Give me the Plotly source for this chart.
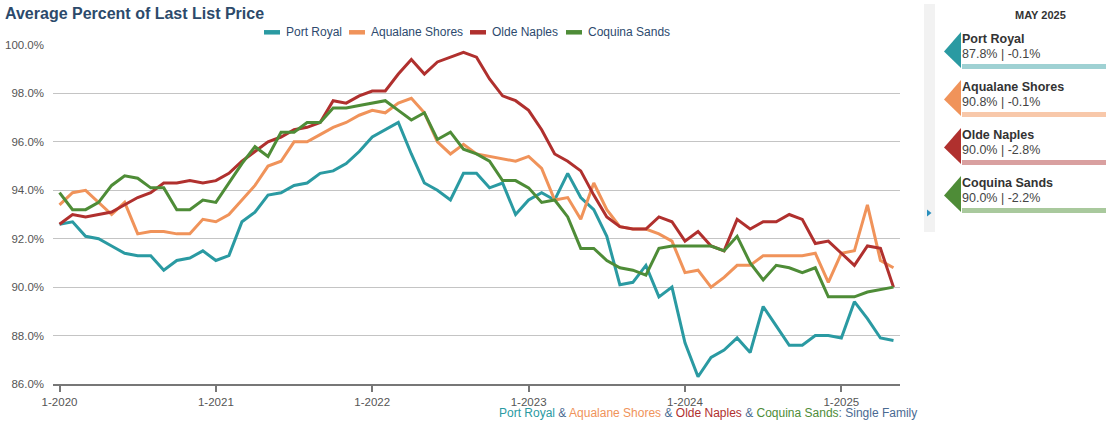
import plotly.graph_objects as go

# ---------------- data ----------------
years = [2020, 2021, 2022, 2023, 2024, 2025]
months = [f"{m}-{y}" for y in years for m in range(1, 13)][:65]  # Jan 2020 .. May 2025
year_ticks = [f"1-{y}" for y in years]

series_names = ["Port Royal", "Aqualane Shores", "Olde Naples", "Coquina Sands"]
series_colors = ["#2a9aa2", "#f0935a", "#b0302e", "#4e8c37"]
bar_colors = ["#9fd1d3", "#f8c8aa", "#d9a0a0", "#a9c99d"]

port_royal = [
    92.6, 92.7, 92.1, 92.0, 91.7, 91.4, 91.3, 91.3, 90.7, 91.1, 91.2, 91.5,
    91.1, 91.3, 92.7, 93.1, 93.8, 93.9, 94.2, 94.3, 94.7, 94.8, 95.1, 95.6,
    96.2, 96.5, 96.8, 95.5, 94.3, 94.0, 93.6, 94.7, 94.7, 94.1, 94.3, 93.0,
    93.6, 93.9, 93.6, 94.7, 93.7, 93.2, 92.1, 90.1, 90.2, 90.9, 89.6, 90.0,
    87.7, 86.3, 87.1, 87.4, 87.9, 87.3, 89.2, 88.4, 87.6, 87.6, 88.0, 88.0,
    87.9, 89.4, 88.7, 87.9, 87.8,
]
aqualane_shores = [
    93.4, 93.9, 94.0, 93.5, 93.0, 93.5, 92.2, 92.3, 92.3, 92.2, 92.2, 92.8,
    92.7, 93.0, 93.6, 94.2, 95.0, 95.2, 96.0, 96.0, 96.3, 96.6, 96.8, 97.1,
    97.3, 97.2, 97.6, 97.8, 97.2, 96.0, 95.5, 95.9, 95.5, 95.4, 95.3, 95.2,
    95.4, 94.9, 93.6, 93.7, 92.8, 94.3, 93.2, 92.5, 92.4, 92.4, 92.2, 91.9,
    90.6, 90.7, 90.0, 90.4, 90.9, 90.9, 91.3, 91.3, 91.3, 91.3, 91.4, 90.2,
    91.4, 91.5, 93.4, 91.1, 90.8,
]
olde_naples = [
    92.6, 93.0, 92.9, 93.0, 93.1, 93.4, 93.7, 93.9, 94.3, 94.3, 94.4, 94.3,
    94.4, 94.7, 95.2, 95.6, 96.0, 96.2, 96.5, 96.6, 96.8, 97.7, 97.6, 97.9,
    98.1, 98.1, 98.8, 99.4, 98.8, 99.3, 99.5, 99.7, 99.5, 98.6, 97.9, 97.7,
    97.3, 96.5, 95.5, 95.2, 94.8, 93.8, 92.9, 92.5, 92.4, 92.4, 92.9, 92.7,
    91.9, 92.3, 91.7, 91.5, 92.8, 92.4, 92.7, 92.7, 93.0, 92.8, 91.8, 91.9,
    91.4, 90.9, 91.7, 91.6, 90.0,
]
coquina_sands = [
    93.9, 93.2, 93.2, 93.5, 94.2, 94.6, 94.5, 94.1, 94.1, 93.2, 93.2, 93.6,
    93.5, 94.3, 95.1, 95.8, 95.4, 96.4, 96.4, 96.8, 96.8, 97.4, 97.4, 97.5,
    97.6, 97.7, 97.3, 96.9, 97.2, 96.1, 96.4, 95.7, 95.5, 95.2, 94.4, 94.4,
    94.1, 93.5, 93.6, 92.9, 91.6, 91.6, 91.1, 90.8, 90.7, 90.5, 91.6, 91.7,
    91.7, 91.7, 91.7, 91.5, 92.1, 91.0, 90.3, 90.9, 90.8, 90.6, 90.8, 89.6,
    89.6, 89.6, 89.8, 89.9, 90.0,
]
all_series = [port_royal, aqualane_shores, olde_naples, coquina_sands]

panel_period = "MAY 2025"
panel_values = ["87.8% | -0.1%", "90.8% | -0.1%", "90.0% | -2.8%", "90.0% | -2.2%"]

y_range = [86, 100]
y_ticks = [86, 88, 90, 92, 94, 96, 98, 100]
y_ticktext = ["86.0%", "88.0%", "90.0%", "92.0%", "94.0%", "96.0%", "98.0%", "100.0%"]

# ---------------- layout helpers (pixel -> paper) ----------------
FONT = "Liberation Sans, Arial, sans-serif"
W_PX, H_PX = 1106, 424
L, R, T, B = 53, 900, 45, 384


def px(x):
    return (x - L) / (R - L)


def py(y):
    return (B - y) / (B - T)


fig = go.Figure()
for name, color, vals in zip(series_names, series_colors, all_series):
    fig.add_trace(go.Scatter(
        x=months, y=vals, name=name, mode="lines",
        line=dict(color=color, width=3), showlegend=False,
        hovertemplate="%{x}: %{y:.1f}%<extra>" + name + "</extra>",
    ))

shapes = []
annotations = []

# legend (symbol start x, text start x) positions in pixels
legend_pos = [(264, 285), (349, 370), (470, 491), (566, 587)]
for (sx, tx), name, color in zip(legend_pos, series_names, series_colors):
    shapes.append(dict(type="line", xref="paper", yref="paper",
                       x0=px(sx), x1=px(sx + 16), y0=py(32.3), y1=py(32.3),
                       line=dict(color=color, width=4.5)))
    annotations.append(dict(text=name, xref="paper", yref="paper",
                            x=px(tx - 1), y=py(32), xanchor="left", yanchor="middle",
                            showarrow=False, font=dict(family=FONT, size=12, color="#2d4a6e")))

# right side strip
shapes.append(dict(type="rect", xref="paper", yref="paper",
                   x0=px(924), x1=px(935), y0=py(232), y1=py(4),
                   fillcolor="#f2f2f2", line=dict(width=0), layer="below"))
shapes.append(dict(type="path", xref="paper", yref="paper",
                   path=f"M{px(927)},{py(209.5)} L{px(931.5)},{py(213)} L{px(927)},{py(216.5)} Z",
                   fillcolor="#2a8fbd", line=dict(width=0)))

annotations.append(dict(text=f"<b>{panel_period}</b>", xref="paper", yref="paper",
                        x=px(1040.5), y=py(15), xanchor="center", yanchor="middle",
                        showarrow=False, font=dict(family=FONT, size=11, color="#333333")))

for k, (name, color, bcol, val) in enumerate(zip(series_names, series_colors, bar_colors, panel_values)):
    dy = 48 * k
    shapes.append(dict(type="path", xref="paper", yref="paper",
                       path=f"M{px(961)},{py(32 + dy)} L{px(944)},{py(51.5 + dy)} L{px(961)},{py(68 + dy)} Z",
                       fillcolor=color, line=dict(width=0)))
    shapes.append(dict(type="rect", xref="paper", yref="paper",
                       x0=px(962), x1=px(1106), y0=py(69 + dy), y1=py(64 + dy),
                       fillcolor=bcol, line=dict(width=0)))
    annotations.append(dict(text=f"<b>{name}</b>", xref="paper", yref="paper",
                            x=px(960), y=py(38.5 + dy), xanchor="left", yanchor="middle",
                            showarrow=False, font=dict(family=FONT, size=12.5, color="#333333")))
    annotations.append(dict(text=val, xref="paper", yref="paper",
                            x=px(960), y=py(54 + dy), xanchor="left", yanchor="middle",
                            showarrow=False, font=dict(family=FONT, size=12.5, color="#444444")))

# caption
amp = '<span style="color:#4a6a92"> &amp; </span>'
caption = (f'<span style="color:{series_colors[0]}">{series_names[0]}</span>' + amp +
           f'<span style="color:{series_colors[1]}">{series_names[1]}</span>' + amp +
           f'<span style="color:{series_colors[2]}">{series_names[2]}</span>' + amp +
           f'<span style="color:{series_colors[3]}">{series_names[3]}</span>' +
           '<span style="color:#4a6a92">: Single Family</span>')
annotations.append(dict(text=caption, xref="paper", yref="paper",
                        x=px(919), y=py(413), xanchor="right", yanchor="middle",
                        showarrow=False, font=dict(family=FONT, size=12)))

fig.update_layout(
    width=W_PX, height=H_PX,
    margin=dict(l=L, r=W_PX - R, t=T, b=H_PX - B, pad=0, autoexpand=False),
    paper_bgcolor="white", plot_bgcolor="white",
    font=dict(family=FONT, color="#555555"),
    showlegend=False,
    title=dict(text="<b>Average Percent of Last List Price</b>",
               x=5 / W_PX, xanchor="left", xref="container",
               y=1 - 13 / H_PX, yanchor="middle", yref="container",
               font=dict(family=FONT, size=16, color="#2c4a6b")),
    xaxis=dict(type="category", categoryorder="array", categoryarray=months,
               range=[-0.5, len(months) - 0.5], automargin=False,
               tickmode="array", tickvals=year_ticks, ticktext=year_ticks,
               showgrid=False, zeroline=False,
               showline=True, linecolor="#777777", linewidth=2,
               ticks="outside", ticklen=6, tickwidth=2, tickcolor="#777777",
               tickfont=dict(family=FONT, size=11.5, color="#555555")),
    yaxis=dict(range=y_range, tickmode="array", tickvals=y_ticks, ticktext=y_ticktext,
               showgrid=True, gridcolor="#c4c4c4", gridwidth=1, automargin=False,
               zeroline=False, showline=False, ticks="",
               ticklabelstandoff=8,
               tickfont=dict(family=FONT, size=11.5, color="#555555")),
    shapes=shapes, annotations=annotations,
    hovermode="x unified",
)

fig.write_html("out.html")
